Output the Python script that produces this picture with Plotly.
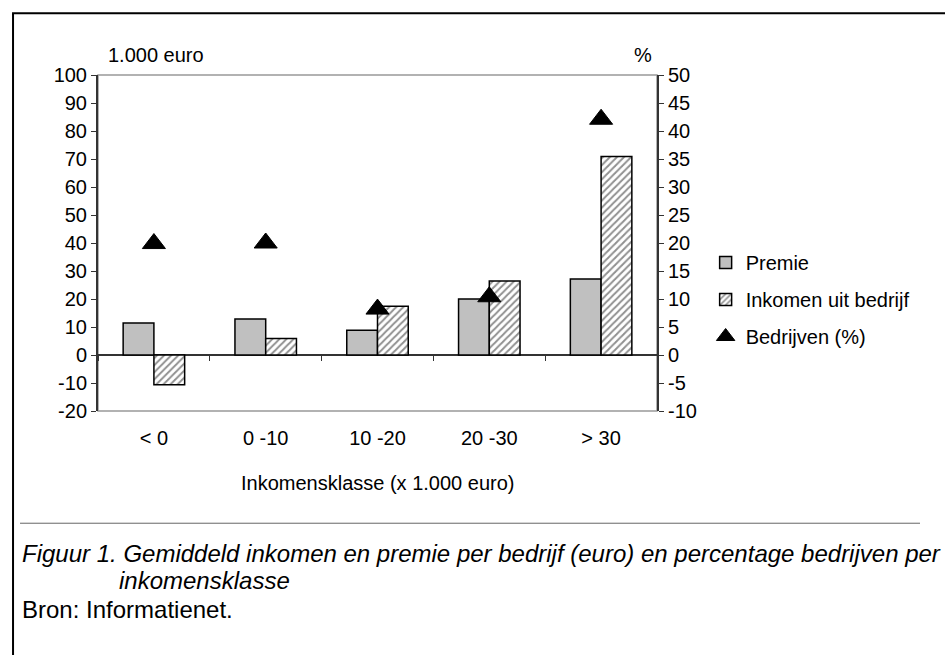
import plotly.graph_objects as go

categories = ["< 0", "0 -10", "10 -20", "20 -30", "> 30"]
premie = [11.4, 12.9, 8.8, 20.0, 27.1]
inkomen = [-10.6, 5.9, 17.4, 26.4, 70.9]
bedrijven_pct = [19.9, 20.0, 8.2, 10.4, 42.1]

left_ticks = list(range(-20, 101, 10))
right_ticks = list(range(-10, 51, 5))

FONT = "Liberation Sans, Arial, sans-serif"
FS = 20
CAP_FS = 24

fig = go.Figure()
fig.add_trace(go.Bar(
    x=categories, y=premie, name="Premie",
    marker=dict(color="#c0c0c0", line=dict(color="black", width=1.5)),
    legendgroup="a",
))
fig.add_trace(go.Bar(
    x=categories, y=inkomen, name="Inkomen uit bedrijf",
    marker=dict(color="white", line=dict(color="black", width=1.5),
                pattern=dict(shape="/", fgcolor="#222222", bgcolor="white", size=5, solidity=0.4)),
    legendgroup="b",
))
fig.add_trace(go.Scatter(
    x=categories, y=bedrijven_pct, name="Bedrijven (%)", mode="markers",
    marker=dict(symbol="triangle-up", size=20, color="black", line=dict(color="black", width=1)),
    yaxis="y2", legendgroup="c",
))

zero_pos = (0 - left_ticks[0]) / (left_ticks[-1] - left_ticks[0])

fig.update_layout(
    width=945, height=655,
    margin=dict(l=98, r=288, t=75, b=244),
    paper_bgcolor="white", plot_bgcolor="white",
    font=dict(family=FONT, size=FS, color="black"),
    barmode="group", bargap=0.45, bargroupgap=0,
    showlegend=True,
    legend=dict(x=1.087, y=0.5, xanchor="left", yanchor="top",
                traceorder="grouped", tracegroupgap=8,
                font=dict(family=FONT, size=FS), bgcolor="rgba(0,0,0,0)"),
    xaxis=dict(type="category", categoryarray=categories, range=[-0.5, len(categories) - 0.5],
               anchor="free", position=zero_pos, showline=False, showgrid=False, zeroline=False,
               ticks="outside", tickson="boundaries", ticklen=5, tickwidth=1, tickcolor="#333",
               ticklabelstandoff=69, tickfont=dict(size=FS)),
    xaxis2=dict(overlaying="x", range=[-0.5, len(categories) - 0.5], anchor="free", position=zero_pos,
                showline=False, showgrid=False, zeroline=False, showticklabels=False,
                tickmode="array", tickvals=[i + 0.5 for i in range(len(categories) - 1)],
                ticks="inside", ticklen=5, tickwidth=1, tickcolor="#333"),
    yaxis=dict(range=[left_ticks[0], left_ticks[-1]], tickmode="array", tickvals=left_ticks,
               ticktext=[str(v) for v in left_ticks],
               showline=True, linecolor="#333", linewidth=2, showgrid=False,
               zeroline=True, zerolinecolor="#333", zerolinewidth=1.5,
               ticks="outside", ticklen=5, tickwidth=1, tickcolor="#333", tickfont=dict(size=FS)),
    yaxis3=dict(overlaying="y", side="left", range=[left_ticks[0], left_ticks[-1]],
                tickmode="array", tickvals=left_ticks, showticklabels=False, showgrid=False,
                zeroline=False, showline=False, ticks="inside", ticklen=5, tickwidth=1, tickcolor="#333"),
    yaxis2=dict(overlaying="y", side="right", range=[right_ticks[0], right_ticks[-1]],
                tickmode="array", tickvals=right_ticks, ticktext=[str(v) for v in right_ticks],
                showline=True, linecolor="#333", linewidth=2,
                showgrid=False, zeroline=False,
                ticks="outside", ticklen=5, tickwidth=1, tickcolor="#333", tickfont=dict(size=FS)),
    yaxis4=dict(overlaying="y", side="right", range=[right_ticks[0], right_ticks[-1]],
                tickmode="array", tickvals=right_ticks, showticklabels=False, showgrid=False,
                zeroline=False, showline=False, ticks="inside", ticklen=5, tickwidth=1, tickcolor="#333"),
)

# plot area border (grey top/bottom)
fig.add_shape(type="rect", xref="paper", yref="paper", x0=0, x1=1, y0=0, y1=1,
              line=dict(color="#999999", width=1.5), layer="below")
# outer frame (open to the right and bottom, as in the cropped original)
fig.add_shape(type="rect", xref="paper", yref="paper", x0=-0.152, x1=1.55, y0=-0.78, y1=1.1836,
              line=dict(color="black", width=2))
# separator line
fig.add_shape(type="line", xref="paper", yref="paper", x0=-0.1395, x1=1.4705, y0=-0.334, y1=-0.334,
              line=dict(color="#666666", width=1))

ann = [
    dict(text="1.000 euro", x=0.0143, y=1.0586, xanchor="left", yanchor="middle", size=FS),
    dict(text="%", x=0.975, y=1.0586, xanchor="center", yanchor="middle", size=FS),
    dict(text="Inkomensklasse (x 1.000 euro)", x=0.5, y=-0.215, xanchor="center", yanchor="middle", size=FS),
    dict(text="<i>Figuur 1. Gemiddeld inkomen en premie per bedrijf (euro) en percentage bedrijven per</i>",
         x=-0.1395, y=-0.4235, xanchor="left", yanchor="middle", size=CAP_FS),
    dict(text="<i>inkomensklasse</i>", x=(117 - 98) / 559, y=-0.504, xanchor="left", yanchor="middle",
         size=CAP_FS),
    dict(text="Bron: Informatienet.", x=-0.1395, y=-0.590, xanchor="left", yanchor="middle", size=CAP_FS),
]
for a in ann:
    size = a.pop("size")
    fig.add_annotation(xref="paper", yref="paper", showarrow=False,
                       font=dict(family=FONT, size=size, color="black"), **a)

fig.write_html("out.html", config={"displayModeBar": False},
               post_script="document.body.style.margin='0';document.body.style.overflow='hidden';")
